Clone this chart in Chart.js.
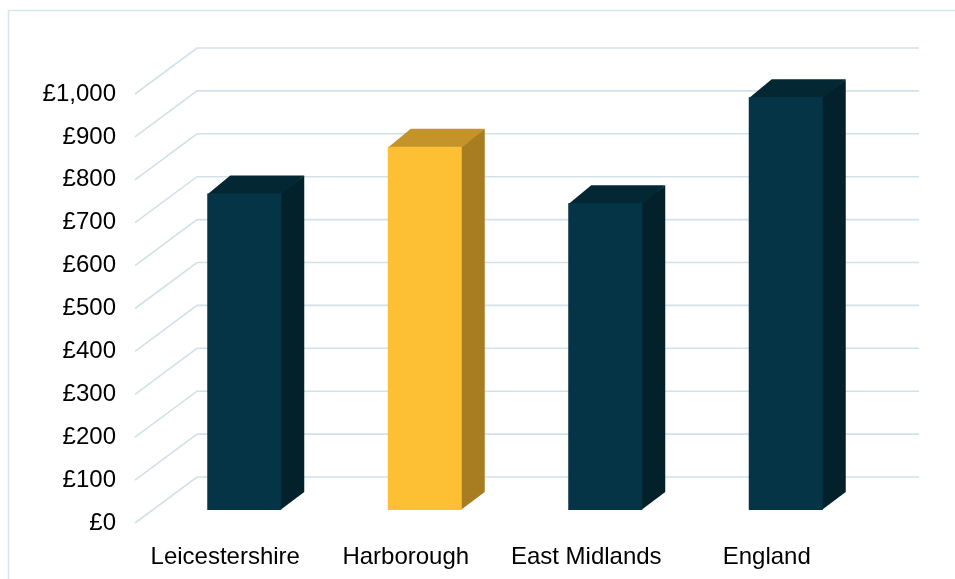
<!DOCTYPE html>
<html>
<head>
<meta charset="utf-8">
<title>Spend per head</title>
<script src="https://cdn.jsdelivr.net/npm/chart.js@4.4.1/dist/chart.umd.min.js"></script>
<style>
  html, body { margin: 0; padding: 0; background: #fff; }
  #wrap { position: relative; width: 955px; height: 579px; }
</style>
</head>
<body>
<div id="wrap"><canvas id="chart"></canvas></div>
<script>
const areas = ['Leicestershire', 'Harborough', 'East Midlands', 'England'];
const spend = [738, 847, 715, 962];
const highlight = 'Harborough';
const yMin = 0;
const yMax = 1000;
const yStep = 100;

// 3D box geometry (pixels)
const DEPTH_X = 62, DEPTH_Y = 46;   // depth of the floor / walls
const BAR_X = 19, BAR_Y = 13;       // bars sit this far back from the front plane
const BAR_DX = 23, BAR_DY = 18;     // depth of each bar

const gridColor = '#d2e1e7';
const shades = {
  normal:    { front: '#063447', side: '#03212b', top: '#042833' },
  highlight: { front: '#fdbf33', side: '#a87d22', top: '#c4942b' }
};

Chart.defaults.font.family = "'Liberation Sans', Arial, sans-serif";
Chart.defaults.color = '#000';

function poly(ctx, pts, color) {
  ctx.fillStyle = color;
  ctx.beginPath();
  ctx.moveTo(pts[0][0], pts[0][1]);
  for (let i = 1; i < pts.length; i++) ctx.lineTo(pts[i][0], pts[i][1]);
  ctx.closePath();
  ctx.fill();
}

const box3d = {
  id: 'box3d',
  beforeDraw(chart) {
    const ctx = chart.ctx;
    ctx.save();
    ctx.strokeStyle = '#d8e5eb';
    ctx.lineWidth = 1.5;
    ctx.beginPath();
    ctx.moveTo(8.5, chart.height);
    ctx.lineTo(8.5, 10.5);
    ctx.lineTo(chart.width, 10.5);
    ctx.stroke();
    ctx.restore();
  },
  beforeDatasetsDraw(chart) {
    const { ctx, chartArea: a, scales: { y } } = chart;
    ctx.save();
    ctx.strokeStyle = gridColor;
    ctx.lineWidth = 1.6;
    y.ticks.forEach(t => {
      const py = y.getPixelForValue(t.value);
      ctx.beginPath();
      ctx.moveTo(a.left, py);
      ctx.lineTo(a.left + DEPTH_X, py - DEPTH_Y);
      ctx.lineTo(a.right + DEPTH_X, py - DEPTH_Y);
      ctx.stroke();
    });
    ctx.restore();
  },
  beforeDatasetDraw(chart, args) {
    const ctx = chart.ctx;
    ctx.save();
    args.meta.data.forEach((bar, i) => {
      const { x, y, base, width } = bar.getProps(['x', 'y', 'base', 'width'], true);
      const l = x - width / 2 + BAR_X;
      const r = x + width / 2 + BAR_X;
      const t = y - BAR_Y;
      const b = base - BAR_Y;
      const c = areas[i] === highlight ? shades.highlight : shades.normal;
      // side and top overlap the front face a little so no seam shows
      poly(ctx, [[r - 1, t], [r + BAR_DX, t - BAR_DY], [r + BAR_DX, b - BAR_DY], [r - 1, b]], c.side);
      poly(ctx, [[l, t + 1], [l + BAR_DX, t - BAR_DY], [r + BAR_DX, t - BAR_DY], [r, t + 1]], c.top);
      poly(ctx, [[l, t], [r, t], [r, b], [l, b]], c.front);
    });
    ctx.restore();
    return false;
  }
};

new Chart(document.getElementById('chart'), {
  type: 'bar',
  data: {
    labels: areas,
    datasets: [{
      data: spend,
      backgroundColor: areas.map(a => a === highlight ? shades.highlight.front : shades.normal.front),
      barPercentage: 0.41,
      categoryPercentage: 1
    }]
  },
  options: {
    responsive: true,
    maintainAspectRatio: false,
    animation: false,
    layout: { padding: { left: 0, right: 98, top: 94, bottom: 0 } },
    plugins: {
      legend: { display: false },
      tooltip: { enabled: false }
    },
    scales: {
      x: {
        grid: { display: false },
        border: { display: false },
        ticks: { font: { size: 24 }, padding: 12, maxRotation: 0 },
        afterFit(s) { s.height = 56; }
      },
      y: {
        min: yMin,
        max: yMax,
        grid: { display: false, drawTicks: false },
        border: { display: false },
        ticks: {
          stepSize: yStep,
          padding: 19,
          font: { size: 24 },
          callback: v => '£' + v.toLocaleString('en-GB')
        },
        afterFit(s) { s.width = 135; }
      }
    }
  },
  plugins: [box3d]
});
</script>
</body>
</html>
